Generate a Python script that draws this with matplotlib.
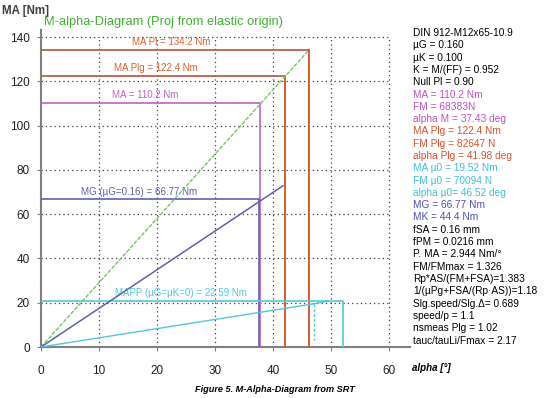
#M-alpha diagram (projection from elastic origin) with the result table on the right

import matplotlib
matplotlib.use('Agg')
import matplotlib.pyplot as plt

plt.rcParams['font.family'] = ['Liberation Sans', 'DejaVu Sans']

#limit lines: (alpha at corner, moment)
alpha_pl = 46.2
ma_pl = 134.2
alpha_plg = 41.98
ma_plg = 122.4
alpha_m = 37.8
ma_m = 110.2
alpha_mg = 37.6
ma_mg = 66.77
alpha_mu0 = 52.0
ma_mu0 = 21.0

#curves
green_alpha = [0, 46.2]
green_ma = [0, 134.2]
blue_alpha = [0, 41.7]
blue_ma = [0, 72.8]
cyan_alpha = [0, 47.0, 49.5]
cyan_ma = [0, 19.5, 20.8]

x_ticks = [0, 10, 20, 30, 40, 50, 60]
y_ticks = [0, 20, 40, 60, 80, 100, 120, 140]

#table on the right: (text, colour)
table_lines = [
    ('DIN 912-M12x65-10.9', 'black'),
    ('\u00b5G = 0.160', 'black'),
    ('\u00b5K = 0.100', 'black'),
    ('K = M/(FF) = 0.952', 'black'),
    ('Null Pl = 0.90', 'black'),
    ('MA = 110.2 Nm', '#c050c0'),
    ('FM = 68383N', '#c050c0'),
    ('alpha M = 37.43 deg', '#c050c0'),
    ('MA Plg = 122.4 Nm', '#d8502c'),
    ('FM Plg = 82647 N', '#d8502c'),
    ('alpha Plg = 41.98 deg', '#d8502c'),
    ('MA \u00b50 = 19.52 Nm', '#40c0d8'),
    ('FM \u00b50 = 70094 N', '#40c0d8'),
    ('alpha \u00b50= 46.52 deg', '#40c0d8'),
    ('MG = 66.77 Nm', '#5050b0'),
    ('MK = 44.4 Nm', '#5050b0'),
    ('fSA = 0.16 mm', 'black'),
    ('fPM = 0.0216 mm', 'black'),
    ('P. MA = 2.944 Nm/\u00b0', 'black'),
    ('FM/FMmax = 1.326', 'black'),
    ('Rp*AS/(FM+FSA)=1.383', 'black'),
    ('1/(\u00b5Pg+FSA/(Rp\u00b7AS))=1.18', 'black'),
    ('Slg.speed/Slg.\u0394= 0.689', 'black'),
    ('speed/p = 1.1', 'black'),
    ('nsmeas Plg = 1.02', 'black'),
    ('tauc/tauLi/Fmax = 2.17', 'black'),
]

red = '#d8602f'
brown = '#b8604c'
magenta = '#c060c8'
blue = '#6060b0'
cyan = '#50c8dc'
green = '#70c860'

fig = plt.figure(figsize=(5.44, 3.98), dpi=100)
ax = fig.add_axes([41 / 544, 51 / 398, 369 / 544, 316.6 / 398])

#grid
for x in x_ticks[1:]:
    ax.plot([x, x], [0, 140], color='#404040', lw=0.9, ls=(0, (1, 2.5)), zorder=1)
for y in y_ticks[1:]:
    ax.plot([0, 60], [y, y], color='#404040', lw=0.9, ls=(0, (1, 2.5)), zorder=1)

#limit boxes
ax.plot([0, alpha_pl, alpha_pl], [ma_pl, ma_pl, 0], color=brown, lw=1.3, zorder=3)
ax.plot([alpha_pl, alpha_pl], [ma_pl, 0], color=red, lw=1.3, zorder=3)
ax.plot([0, alpha_plg, alpha_plg], [ma_plg, ma_plg, 0], color=brown, lw=1.3, zorder=3)
ax.plot([alpha_plg, alpha_plg], [ma_plg, 0], color=red, lw=1.3, zorder=3)
ax.plot([0, alpha_m, alpha_m], [ma_m, ma_m, 0], color=magenta, lw=1.2, zorder=3)
ax.plot([0, alpha_mg, alpha_mg], [ma_mg, ma_mg, 0], color=blue, lw=1.2, zorder=3)
ax.plot([0, alpha_mu0, alpha_mu0], [ma_mu0, ma_mu0, 0], color=cyan, lw=1.2, zorder=3)

#curves
ax.plot(green_alpha, green_ma, color=green, lw=1.0, ls=(0, (3, 1)), zorder=4)
ax.plot(blue_alpha, blue_ma, color=blue, lw=1.1, zorder=4)
ax.plot(cyan_alpha, cyan_ma, color=cyan, lw=1.0, zorder=4)
ax.plot([cyan_alpha[1], cyan_alpha[1]], [cyan_ma[1], 3], color=cyan, lw=1.0, ls=(0, (2, 1.5)), zorder=4)

#labels on the lines
ax.text(22.4, ma_pl + 1.2, 'MA Pl = 134.2 Nm', color=red, fontsize=7, ha='center', va='bottom')
ax.text(19.8, ma_plg + 1.2, 'MA Plg = 122.4 Nm', color=red, fontsize=7, ha='center', va='bottom')
ax.text(18.0, ma_m + 1.2, 'MA = 110.2 Nm', color=magenta, fontsize=7, ha='center', va='bottom')
ax.text(16.9, ma_mg + 1.0, 'MG (\u00b5G=0.16) = 66.77 Nm', color=blue, fontsize=7, ha='center', va='bottom')
ax.text(24.2, ma_mu0 + 1.0, 'MAPP (\u00b5G=\u00b5K=0) = 22.59 Nm', color=cyan, fontsize=7, ha='center', va='bottom')

ax.set_xlim(0, 63.6)
ax.set_ylim(0, 143)
ax.set_xticks(x_ticks)
ax.set_yticks(y_ticks)
ax.tick_params(direction='out', length=3, width=0.8, color='#808080', labelsize=8.5, labelcolor='#202020')
ax.tick_params(axis='x', pad=10)
ax.tick_params(axis='y', pad=5)
for s in ['top', 'right']:
    ax.spines[s].set_visible(False)
for s in ['left', 'bottom']:
    ax.spines[s].set_color('#808080')
    ax.spines[s].set_linewidth(1.5)

fig.text(2 / 544, 1 - 11 / 398, 'MA [Nm]', fontsize=8.3, fontweight='bold', color='#404040', va='center')
fig.text(44 / 544, 1 - 22 / 398, 'M-alpha-Diagram (Proj from elastic origin)', fontsize=9.3, color='#40b030', va='center')
fig.text(412 / 544, 1 - 368 / 398, 'alpha [\u00b0]', fontsize=7, fontweight='bold', style='italic', va='center')
fig.text(275 / 544, 1 - 390 / 398, 'Figure 5. M-Alpha-Diagram from SRT', fontsize=6.6, fontweight='bold', style='italic', ha='center', va='center')

for i, (txt, col) in enumerate(table_lines):
    fig.text(413 / 544, 1 - (33 + i * 12.3) / 398, txt, color=col, fontsize=7.3, va='center')

fig.savefig('out.png', dpi=100, facecolor='white')
